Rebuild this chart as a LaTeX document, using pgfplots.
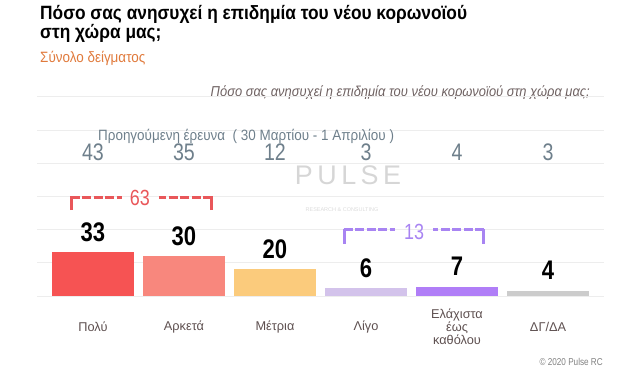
\documentclass[border=0pt]{standalone}
\usepackage{pgfplots}
\pgfplotsset{compat=1.18}
\usepackage{fontspec}
\setmainfont{Liberation Sans}
\newfontfamily\cond[FakeStretch=0.82]{Liberation Sans}
\newfontfamily\condw[FakeStretch=0.9]{Liberation Sans}
\definecolor{c1}{HTML}{F65353}
\definecolor{c2}{HTML}{F8877D}
\definecolor{c3}{HTML}{FBCB7C}
\definecolor{c4}{HTML}{D3C3EB}
\definecolor{c5}{HTML}{B07EF7}
\definecolor{c6}{HTML}{CCCCCC}
\definecolor{redc}{HTML}{E9575A}
\definecolor{purc}{HTML}{A884F2}
\definecolor{slate}{HTML}{6E7F8B}
\definecolor{labc}{HTML}{5E5050}
\definecolor{orangec}{HTML}{E07A3C}
\definecolor{gridc}{HTML}{EDEDED}
\begin{document}
\begin{tikzpicture}
\useasboundingbox (0,0) rectangle (640bp,377bp);
% titles
\node[anchor=base west, inner sep=0, font=\condw\bfseries\fontsize{19.3}{22}\selectfont] at (40bp,357bp) {Πόσο σας ανησυχεί η επιδημία του νέου κορωνοϊού};
\node[anchor=base west, inner sep=0, font=\condw\bfseries\fontsize{19.3}{22}\selectfont] at (40bp,338bp) {στη χώρα μας;};
\node[anchor=base west, inner sep=0, text=orangec, font=\condw\fontsize{15}{17}\selectfont] at (40bp,314bp) {Σύνολο δείγματος};
\node[anchor=base east, inner sep=0, text=labc!90, font=\condw\itshape\fontsize{14.4}{16}\selectfont] at (590bp,280bp) {Πόσο σας ανησυχεί η επιδημία του νέου κορωνοϊού στη χώρα μας;};
\node[anchor=east, inner sep=0, text=black!50, font=\cond\fontsize{10}{12}\selectfont] at (603bp,15bp) {© 2020 Pulse RC};
% watermark
\node[inner sep=0, text=black!16, font=\fontsize{27}{29}\selectfont] at (348bp,202bp) {P\,U\,L\,S\,E};
\node[inner sep=0, text=black!14, font=\fontsize{5.5}{6}\selectfont] at (342bp,167bp) {RESEARCH \& CONSULTING};
\begin{axis}[
  at={(37bp,81bp)}, anchor=south west,
  scale only axis, width=567bp, height=199bp,
  xmin=-0.615, xmax=5.615, ymin=0, ymax=150,
  axis line style={draw=none},
  ytick={0,25,...,150}, yticklabels={},
  ymajorgrids, grid style={color=gridc, line width=1bp},
  major tick length=0pt,
  xtick={0,...,5},
  xticklabels={Πολύ,Αρκετά,Μέτρια,Λίγο,{Ελάχιστα\\έως\\καθόλου},ΔΓ/ΔΑ},
  xticklabel style={anchor=center, yshift=-31bp, align=center, text=labc, font=\fontsize{12.8}{13}\selectfont},
  /pgf/number format/assume math mode=true,
  clip=false,
  mybar/.style={ybar, bar width=0.9, bar shift=0pt, draw=none, fill=#1,
    nodes near coords,
    every node near coord/.append style={anchor=center, yshift=20bp, text=black, font=\cond\bfseries\fontsize{27}{30}\selectfont}},
]
\addplot[mybar=c1] coordinates {(0,33)};
\addplot[mybar=c2] coordinates {(1,30)};
\addplot[mybar=c3] coordinates {(2,20)};
\addplot[mybar=c4] coordinates {(3,6)};
\addplot[mybar=c5] coordinates {(4,7)};
\addplot[mybar=c6] coordinates {(5,4)};
% previous survey
\addplot[draw=none, mark=none, nodes near coords, point meta=explicit symbolic,
  every node near coord/.append style={anchor=center, text=slate, font=\cond\fontsize{24}{26}\selectfont}]
  coordinates {(0,108.5)[43] (1,108.5)[35] (2,108.5)[12] (3,108.5)[3] (4,108.5)[4] (5,108.5)[3]};
\node[anchor=west, inner sep=0, text=slate, font=\condw\fontsize{15}{16}\selectfont] at (axis cs:0.055,120.5) {Προηγούμενη έρευνα \ ( 30 Μαρτίου - 1 Απριλίου )};
% bracket 63
\draw[redc, line width=3bp] (axis cs:-0.231,64.8) -- (axis cs:-0.231,75.7);
\draw[redc, line width=3bp] (axis cs:1.297,64.8) -- (axis cs:1.297,75.7);
\draw[redc, line width=3bp, dash pattern=on 9bp off 2.5bp] (axis cs:-0.245,74.6) -- (axis cs:0.319,74.6);
\draw[redc, line width=3bp, dash pattern=on 9bp off 2.5bp] (axis cs:1.311,74.6) -- (axis cs:0.725,74.6);
\node[text=redc, font=\cond\fontsize{22}{24}\selectfont] at (axis cs:0.516,74) {63};
% bracket 13
\draw[purc, line width=3bp] (axis cs:2.769,39.2) -- (axis cs:2.769,50.8);
\draw[purc, line width=3bp] (axis cs:4.286,39.2) -- (axis cs:4.286,50.8);
\draw[purc, line width=3bp, dash pattern=on 9bp off 2.5bp] (axis cs:2.755,49.75) -- (axis cs:3.319,49.75);
\draw[purc, line width=3bp, dash pattern=on 9bp off 2.5bp] (axis cs:4.300,49.75) -- (axis cs:3.736,49.75);
\node[text=purc, font=\cond\fontsize{22}{24}\selectfont] at (axis cs:3.528,48.5) {13};
\end{axis}
\end{tikzpicture}
\end{document}
